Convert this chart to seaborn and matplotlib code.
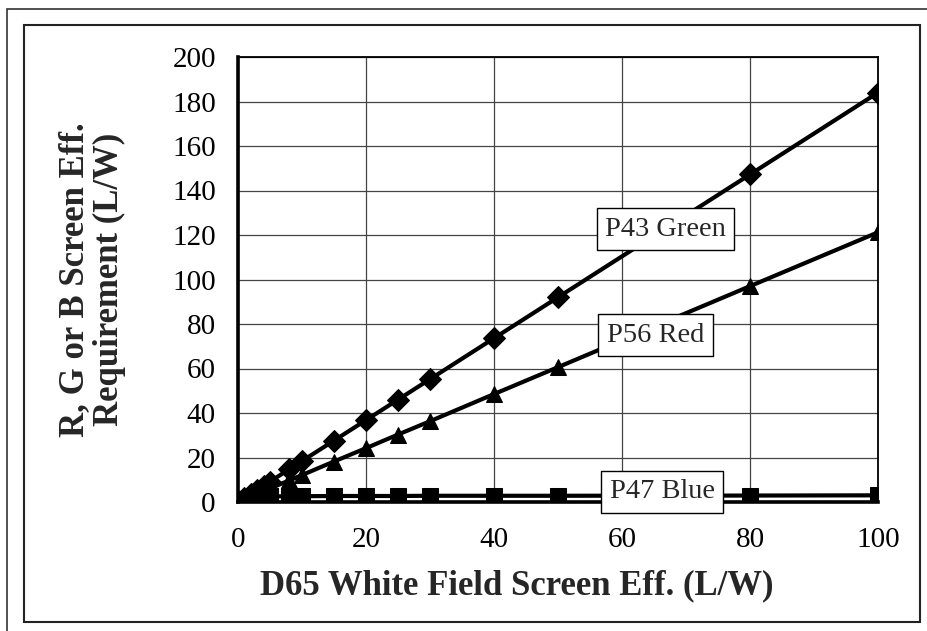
#!/usr/bin/env python3
"""Screen efficiency requirement vs D65 white field efficiency."""

import matplotlib
matplotlib.use("Agg")
import matplotlib.pyplot as plt
from matplotlib.patches import Rectangle
import pandas as pd
import seaborn as sns


white_eff = [0, 1, 2, 3, 4, 5, 8, 10, 15, 20, 25, 30, 40, 50, 80, 100]
green_p43 = [0, 1.8, 3.7, 5.5, 7.4, 9.2, 14.7, 18.4, 27.6, 36.8, 46.0, 55.2, 73.6, 92.0, 147.2, 184.0]
red_p56 = [0, 1.2, 2.4, 3.6, 4.8, 6.1, 9.7, 12.1, 18.2, 24.2, 30.3, 36.3, 48.5, 60.6, 97.0, 121.2]
blue_p47 = [0, 1.5, 2.0, 2.2, 2.4, 2.5, 2.6, 2.6, 2.7, 2.7, 2.7, 2.8, 2.8, 2.8, 2.9, 3.0]

series_names = ["P43 Green", "P56 Red", "P47 Blue"]
series_markers = ["D", "^", "s"]
label_pos = [(66.8, 122.5), (65.2, 75.0), (66.3, 4.5)]


def main():
    sns.set_theme(style="white")
    plt.rcParams["font.family"] = ["Liberation Serif", "DejaVu Serif"]

    data = pd.DataFrame(
        {
            "x": white_eff * 3,
            "y": green_p43 + red_p56 + blue_p47,
            "series": [n for n in series_names for _ in white_eff],
        }
    )

    fig = plt.figure(figsize=(9.27, 6.31), dpi=100)
    ax = fig.add_axes([238 / 927, 1 - 502 / 631, 640 / 927, 445 / 631])

    sns.lineplot(
        data=data,
        x="x",
        y="y",
        hue="series",
        style="series",
        markers=dict(zip(series_names, series_markers)),
        dashes=False,
        palette=["black"] * 3,
        linewidth=3,
        markersize=11,
        markeredgecolor="black",
        legend=False,
        ax=ax,
        zorder=3,
    )

    ax.set_xlim(0, 100)
    ax.set_ylim(0, 200)
    ax.set_xticks(range(0, 101, 20))
    ax.set_yticks(range(0, 201, 20))
    ax.grid(True, color="#444444", linewidth=0.9)
    for side in ["top", "right"]:
        ax.spines[side].set_color("black")
        ax.spines[side].set_linewidth(1.3)
    for side in ["left", "bottom"]:
        ax.spines[side].set_color("black")
        ax.spines[side].set_linewidth(2.6)
    ax.tick_params(axis="both", direction="out", length=7, width=1, color="#444444",
                   labelsize=21, labelcolor="black")
    ax.tick_params(axis="x", pad=11)
    ax.tick_params(axis="y", pad=9)

    ax.set_xlabel("D65 White Field Screen Eff. (L/W)", fontsize=25, fontweight="bold")
    ax.xaxis.set_label_coords((517 - 238) / 640, -(586 - 502) / 445)
    ax.xaxis.label.set_va("center")
    ax.set_ylabel("R, G or B Screen Eff.\nRequirement (L/W)", fontsize=25,
                  fontweight="bold", multialignment="center", linespacing=1.05)
    ax.yaxis.set_label_coords(-(238 - 92) / 640, 0.5)
    ax.yaxis.label.set_va("center")

    for name, (lx, ly) in zip(series_names, label_pos):
        ax.text(lx, ly, name, fontsize=20.5, ha="center", va="center", zorder=5,
                bbox=dict(boxstyle="square,pad=0.3", facecolor="white",
                          edgecolor="black", linewidth=1))

    # double frame around the chart
    fig.patches.append(Rectangle((7 / 927, -0.1), 1.2, 1 - 9 / 631 + 0.1,
                                 transform=fig.transFigure, fill=False,
                                 edgecolor="#333333", linewidth=1.2))
    fig.patches.append(Rectangle((24 / 927, 1 - 622 / 631), 896 / 927, 597 / 631,
                                 transform=fig.transFigure, fill=False,
                                 edgecolor="#222222", linewidth=1.5))

    fig.savefig("out.png", dpi=100)
    plt.close(fig)


if __name__ == "__main__":
    main()
